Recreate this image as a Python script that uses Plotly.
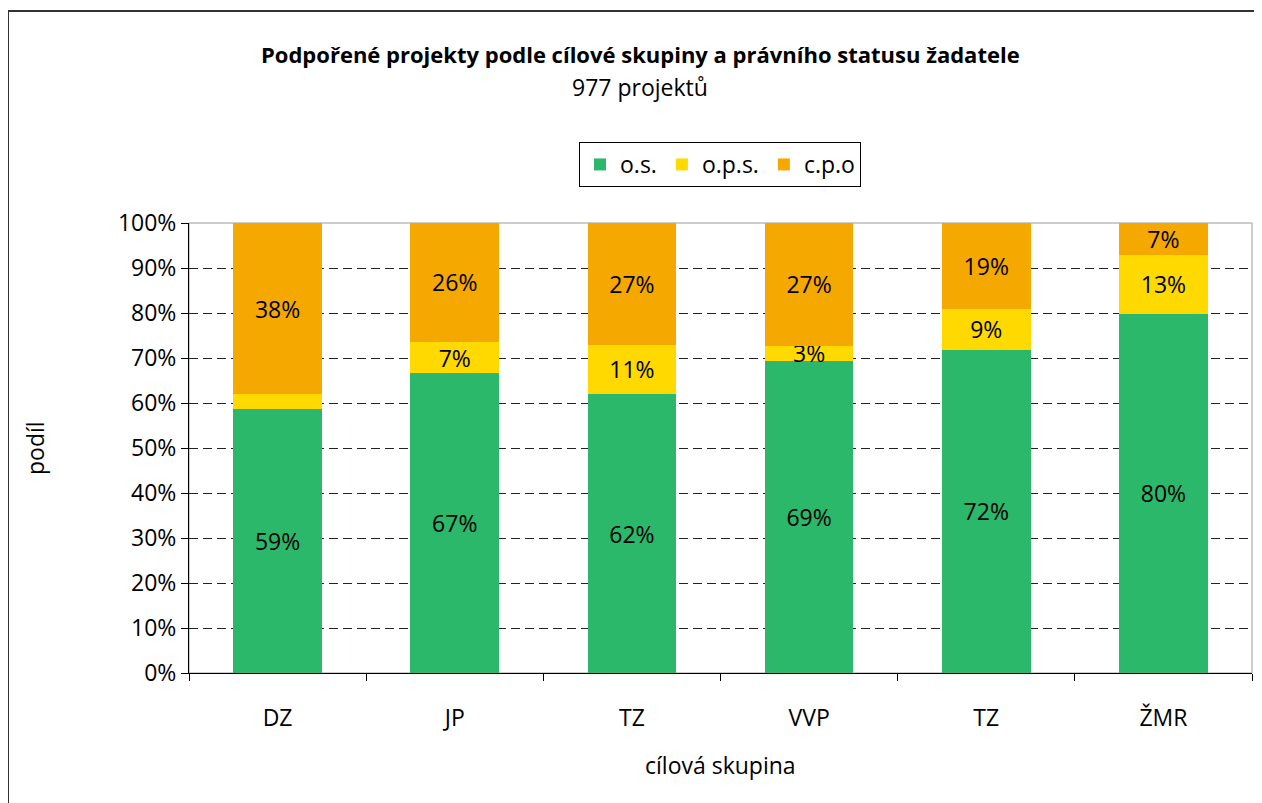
import plotly.graph_objects as go

categories = ["DZ", "JP", "TZ", "VVP", "TZ", "ŽMR"]
os_vals = [58.6, 66.6, 62.0, 69.4, 71.8, 79.8]
ops_vals = [3.4, 7.0, 10.9, 3.3, 9.1, 13.1]
cpo_vals = [38.0, 26.4, 27.1, 27.3, 19.1, 7.1]
os_labels = ["59%", "67%", "62%", "69%", "72%", "80%"]
ops_labels = ["", "7%", "11%", "3%", "9%", "13%"]
cpo_labels = ["38%", "26%", "27%", "27%", "19%", "7%"]
series_names = ["o.s.", "o.p.s.", "c.p.o"]
colors = ["#2BB86A", "#FFD900", "#F5A800"]
y_ticks = list(range(0, 101, 10))
y_ticktext = [f"{v}%" for v in y_ticks]

FONT = "Open Sans"
OFF = 8  # page body margin
W, H = 1262 - OFF, 803 - OFF
# plot area in screen pixels: x 189..1252, y 223..673
L, R, T, B = 189 - OFF, 1262 - 1252, 223 - OFF, 803 - 673
pw, ph = W - L - R, H - T - B

def px_x(x):
    return (x - OFF - L) / pw

def px_y(y):
    return (673 - y) / ph

xpos = list(range(len(categories)))

fig = go.Figure()
for name, vals, labels, col in zip(series_names, [os_vals, ops_vals, cpo_vals],
                                   [os_labels, ops_labels, cpo_labels], colors):
    fig.add_trace(go.Bar(
        x=xpos, y=vals, name=name, marker=dict(color=col, line=dict(width=0)),
        width=0.5, text=labels, textposition="inside", insidetextanchor="middle",
        textangle=0, textfont=dict(family=FONT, size=23, color="black"),
        cliponaxis=False,
    ))

fig.update_layout(
    barmode="stack",
    width=W, height=H,
    margin=dict(l=L, r=R, t=T, b=B),
    paper_bgcolor="white", plot_bgcolor="white",
    font=dict(family=FONT, size=23, color="black"),
    uniformtext=dict(minsize=23, mode="show"),
    showlegend=True,
    legend=dict(
        orientation="h", x=px_x(720), xanchor="center", y=px_y(142), yanchor="top",
        bordercolor="black", borderwidth=1, bgcolor="white",
        font=dict(family=FONT, size=23), itemwidth=30, tracegroupgap=0,
        traceorder="normal",
    ),
    xaxis=dict(
        range=[-0.5, 5.5], tickmode="array", tickvals=xpos, ticktext=categories,
        ticks="", ticklabelstandoff=24, showline=True, linecolor="black", linewidth=1,
        showgrid=False, zeroline=False,
        minor=dict(tickmode="array", tickvals=[i - 0.5 for i in range(7)],
                   ticks="outside", ticklen=7, tickcolor="black", showgrid=False),
        tickfont=dict(family=FONT, size=23),
    ),
    yaxis=dict(
        range=[0, 100], tickmode="array", tickvals=y_ticks, ticktext=y_ticktext,
        ticks="outside", ticklen=7, tickcolor="black",
        showline=True, linecolor="black", linewidth=1,
        showgrid=True, gridcolor="#222222", gridwidth=1, griddash="9px,5px",
        zeroline=False, tickfont=dict(family=FONT, size=23),
    ),
    shapes=[
        dict(type="rect", xref="paper", yref="paper", x0=0, x1=1, y0=0, y1=1,
             line=dict(color="#9a9a9a", width=1), layer="below"),
        dict(type="rect", xref="paper", yref="paper", x0=px_x(8), x1=px_x(1400),
             y0=px_y(900), y1=px_y(11), line=dict(color="#333333", width=2),
             fillcolor="rgba(0,0,0,0)"),
    ],
    annotations=[
        dict(text="<b>Podpořené projekty podle cílové skupiny a právního statusu žadatele</b>",
             xref="paper", yref="paper", x=px_x(640), y=px_y(54), showarrow=False,
             xanchor="center", yanchor="middle", font=dict(family=FONT, size=22)),
        dict(text="977 projektů", xref="paper", yref="paper", x=px_x(640), y=px_y(87),
             showarrow=False, xanchor="center", yanchor="middle",
             font=dict(family=FONT, size=23)),
        dict(text="podíl", xref="paper", yref="paper", x=px_x(35), y=px_y(448),
             showarrow=False, textangle=-90, xanchor="center", yanchor="middle",
             font=dict(family=FONT, size=23)),
        dict(text="cílová skupina", xref="paper", yref="paper", x=px_x(720), y=px_y(765),
             showarrow=False, xanchor="center", yanchor="middle",
             font=dict(family=FONT, size=23)),
    ],
)

fig.write_html("out.html")
